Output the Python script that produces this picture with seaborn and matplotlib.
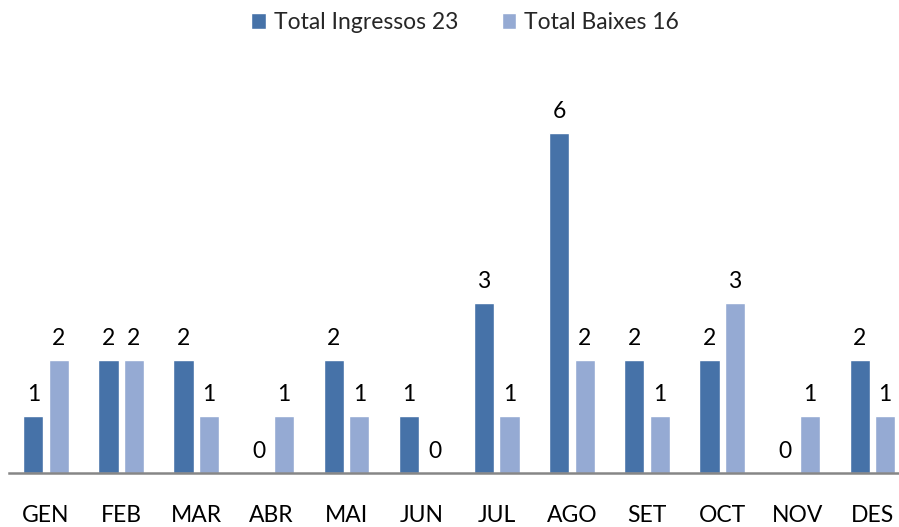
import matplotlib
matplotlib.use("Agg")
import matplotlib.pyplot as plt
import seaborn as sns
import pandas as pd

months = ["GEN", "FEB", "MAR", "ABR", "MAI", "JUN", "JUL", "AGO", "SET", "OCT", "NOV", "DES"]
ingressos = [1, 2, 2, 0, 2, 1, 3, 6, 2, 2, 0, 2]
baixes = [2, 2, 1, 1, 1, 0, 1, 2, 1, 3, 1, 1]
series_names = ["Total Ingressos 23", "Total Baixes 16"]
colors = ["#4672A8", "#95AAD3"]

df = pd.DataFrame({
    "mes": months * 2,
    "valor": ingressos + baixes,
    "serie": [series_names[0]] * len(months) + [series_names[1]] * len(months),
})

sns.set_theme(style="white")
plt.rcParams["font.family"] = ["Lato", "DejaVu Sans"]

fig = plt.figure(figsize=(8.99, 5.27), dpi=100)
W, H = 899, 527
ax = fig.add_axes([8.5 / W, (H - 473) / H, 901.5 / W, 396.7 / H])

sns.barplot(data=df, x="mes", y="valor", hue="serie", palette=colors,
            width=0.68, gap=0.21, ax=ax, legend=True, saturation=1)

ax.set_ylim(0, 7)
ax.set_xlim(-0.5, len(months) - 0.5)
for c in ax.containers:
    ax.bar_label(c, padding=8, fontsize=16.5, color="#000000")

for s in ["top", "right", "left"]:
    ax.spines[s].set_visible(False)
ax.spines["bottom"].set_color("#868686")
ax.spines["bottom"].set_linewidth(1.8)
ax.set_yticks([])
ax.set_xlabel("")
ax.set_ylabel("")
ax.tick_params(axis="x", length=0, pad=23, labelsize=16.5, colors="#000000")

handles, labels = ax.get_legend_handles_labels()
ax.get_legend().remove()
fig.legend(handles, labels, loc="center", bbox_to_anchor=(465 / W, 1 - 23 / H),
           ncol=2, frameon=False, fontsize=16.5, handlelength=0.65, handleheight=0.7,
           handletextpad=0.35, columnspacing=1.9)

fig.savefig("out.png", dpi=100)
